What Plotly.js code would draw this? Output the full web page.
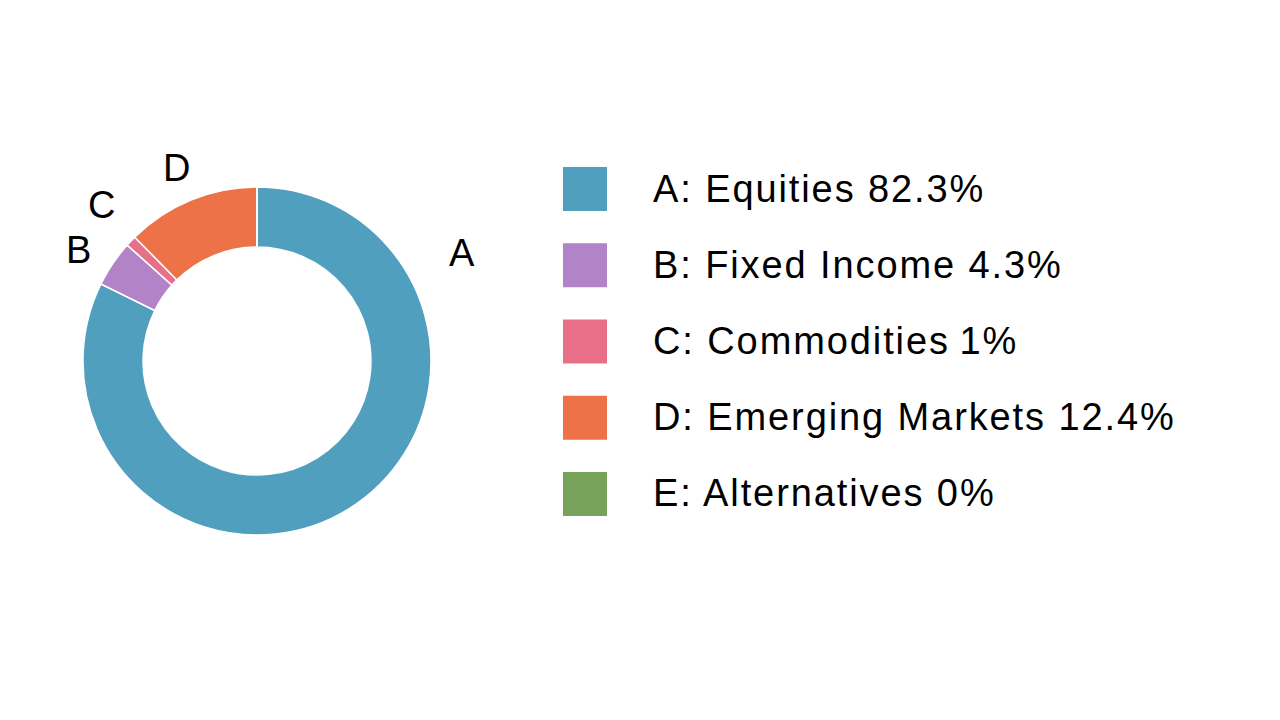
<!DOCTYPE html>
<html>
<head>
<meta charset="utf-8">
<script src="https://cdn.plot.ly/plotly-3.0.1.min.js"></script>
<style>
html,body{margin:0;padding:0;background:#fff;}
#chart{width:1280px;height:720px;}
#chart .textpoint text{letter-spacing:1.9px;}
</style>
</head>
<body>
<div id="chart"></div>
<script>
// ---- data ----
const letters = ["A", "B", "C", "D", "E"];
const categories = ["Equities", "Fixed Income", "Commodities", "Emerging Markets", "Alternatives"];
const values = [82.3, 4.3, 1, 12.4, 0];
const valueLabels = ["82.3%", "4.3%", "1%", "12.4%", "0%"];
const colors = ["#519fbf", "#b283c6", "#e86f88", "#ed7248", "#76a359"];

// ---- styling / layout config ----
const FONT = "Liberation Sans, Arial, Helvetica, sans-serif";
const labelSpots = { A: [462, 253], B: [78, 250], C: [101, 205], D: [176, 168] }; // pixel positions of pie letter labels
const W = 1280, H = 720;

const legendText = letters.map((l, i) => l + ": " + categories[i] + (i === 2 ? "\u2009" : " ") + valueLabels[i]);
const idx = letters.map((_, i) => i);

const pie = {
  type: "pie",
  labels: letters,
  values: values,
  sort: false,
  direction: "clockwise",
  rotation: 0,
  hole: 0.655,
  textinfo: "none",
  hoverinfo: "label+percent",
  showlegend: false,
  marker: { colors: colors, line: { color: "#ffffff", width: 1.5 } },
  domain: { x: [83 / W, 431 / W], y: [(H - 535) / H, (H - 187) / H] }
};

const swatches = {
  type: "scatter",
  mode: "markers",
  x: idx.map(() => 0),
  y: idx,
  xaxis: "x2", yaxis: "y2",
  marker: { symbol: "square", size: 44, color: colors, line: { width: 0 } },
  hoverinfo: "skip",
  showlegend: false,
  cliponaxis: false
};

const texts = {
  type: "scatter",
  mode: "text",
  x: idx.map(() => 1),
  y: idx,
  xaxis: "x2", yaxis: "y3",
  text: legendText,
  textposition: "middle right",
  textfont: { family: FONT, size: 38, color: "#000000" },
  hoverinfo: "skip",
  showlegend: false,
  cliponaxis: false
};

const annotations = letters.filter(l => labelSpots[l]).map(l => ({
  text: l,
  xref: "paper", yref: "paper",
  x: labelSpots[l][0] / W,
  y: 1 - labelSpots[l][1] / H,
  xanchor: "center", yanchor: "middle",
  showarrow: false,
  font: { family: FONT, size: 38, color: "#000000" }
}));

const rowTop = 150.9, rowBottom = 532.1, textShift = 3;
const layout = {
  width: W, height: H,
  margin: { l: 0, r: 0, t: 0, b: 0 },
  paper_bgcolor: "#ffffff",
  plot_bgcolor: "rgba(0,0,0,0)",
  showlegend: false,
  xaxis2: { domain: [585 / W, 653 / W], range: [0, 1], visible: false, fixedrange: true, anchor: "y2" },
  yaxis2: { domain: [(H - rowBottom) / H, (H - rowTop) / H], range: [4.5, -0.5], visible: false, fixedrange: true, anchor: "x2" },
  yaxis3: { domain: [(H - rowBottom - textShift) / H, (H - rowTop - textShift) / H], range: [4.5, -0.5], visible: false, fixedrange: true, anchor: "x2" },
  annotations: annotations
};

Plotly.newPlot("chart", [pie, swatches, texts], layout, { displayModeBar: false, staticPlot: true });
</script>
</body>
</html>
